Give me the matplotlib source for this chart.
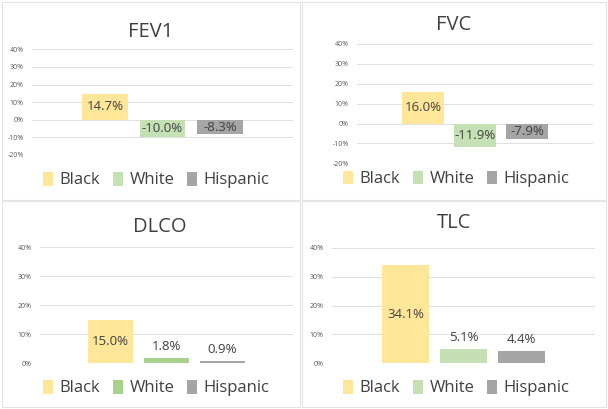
import matplotlib
matplotlib.use('Agg')
import matplotlib.pyplot as plt
from matplotlib.patches import Rectangle, Patch
from matplotlib.ticker import FuncFormatter

plt.rcParams['font.family'] = ['Open Sans', 'DejaVu Sans']

groups = ['Black', 'White', 'Hispanic']
titles = ['FEV1', 'FVC', 'DLCO', 'TLC']
fev1 = [14.7, -10.0, -8.3]
fvc = [16.0, -11.9, -7.9]
dlco = [15.0, 1.8, 0.9]
tlc = [34.1, 5.1, 4.4]
values = [fev1, fvc, dlco, tlc]
yticks_neg = [-20, -10, 0, 10, 20, 30, 40]
yticks_pos = [0, 10, 20, 30, 40]

W, H = 608, 409
fig = plt.figure(figsize=(W / 100, H / 100), dpi=100)

yellow = '#FFE699'
green = '#C5E0B4'
green_dark = '#A9D18E'
grey = '#A5A5A5'
text_col = '#404040'

# panel layout in pixels: box, plot area (x0, x1, ytop, ybot), title pos, legend center
panels = [
    dict(box=(2, 300, 2, 200), area=(32, 293, 49.3, 155), title=(151, 32), leg=(156, 180)),
    dict(box=(302, 606, 2, 200), area=(357, 593, 44, 163.3), title=(454, 25), leg=(456, 179)),
    dict(box=(2, 300, 201, 407), area=(40, 293, 247.3, 363.3), title=(160, 227), leg=(156, 388)),
    dict(box=(302, 606, 201, 407), area=(332, 595, 247.7, 363.3), title=(454, 223), leg=(456, 388)),
]


def fx(px):
    return px / W


def fy(py):
    return 1 - py / H


for i, p in enumerate(panels):
    bx0, bx1, by0, by1 = p['box']
    fig.patches.append(Rectangle((fx(bx0), fy(by1)), fx(bx1 - bx0), (by1 - by0) / H,
                                 transform=fig.transFigure, fill=False,
                                 edgecolor='#E3E3E3', linewidth=0.8))
    x0, x1, yt, yb = p['area']
    ax = fig.add_axes([fx(x0), fy(yb), fx(x1 - x0), (yb - yt) / H])
    cols = [yellow, green_dark if titles[i] == 'DLCO' else green, grey]
    vals = values[i]
    bars = ax.bar(range(3), vals, width=0.8, color=cols, zorder=2)
    ticks = yticks_neg if min(vals) < 0 else yticks_pos
    ax.set_ylim(ticks[0], ticks[-1])
    ax.set_xlim(-1.27, 3.27)
    ax.set_yticks(ticks)
    ax.yaxis.set_major_formatter(FuncFormatter(lambda v, _: f'{v:.0f}%'))
    ax.tick_params(axis='y', length=0, pad=6, labelsize=5, labelcolor='#595959')
    ax.set_xticks([])
    ax.grid(axis='y', color='#E0E0E0', linewidth=0.75, zorder=0)
    for s in ax.spines.values():
        s.set_visible(False)
    ax.patch.set_alpha(0)
    for b, v in zip(bars, vals):
        lab = f'{v:.1f}%'
        if abs(v) > 7:
            ax.text(b.get_x() + b.get_width() / 2, v / 2, lab, ha='center', va='center',
                    fontsize=9.5, color=text_col, zorder=3)
        else:
            ax.annotate(lab, (b.get_x() + b.get_width() / 2, v), xytext=(0, 3.5),
                        textcoords='offset points', ha='center', va='bottom',
                        fontsize=9.5, color=text_col)
    tx, ty = p['title']
    fig.text(fx(tx), fy(ty), titles[i], ha='center', va='center',
             fontsize=14.5, color=text_col)
    handles = [Patch(facecolor=c, edgecolor='none') for c in cols]
    lx, ly = p['leg']
    fig.legend(handles, groups, loc='center', bbox_to_anchor=(fx(lx), fy(ly)), ncol=3,
               frameon=False, fontsize=12, handlelength=0.6, handleheight=0.9,
               handletextpad=0.4, columnspacing=0.75, labelcolor=text_col)

fig.savefig('out.png', dpi=100)
